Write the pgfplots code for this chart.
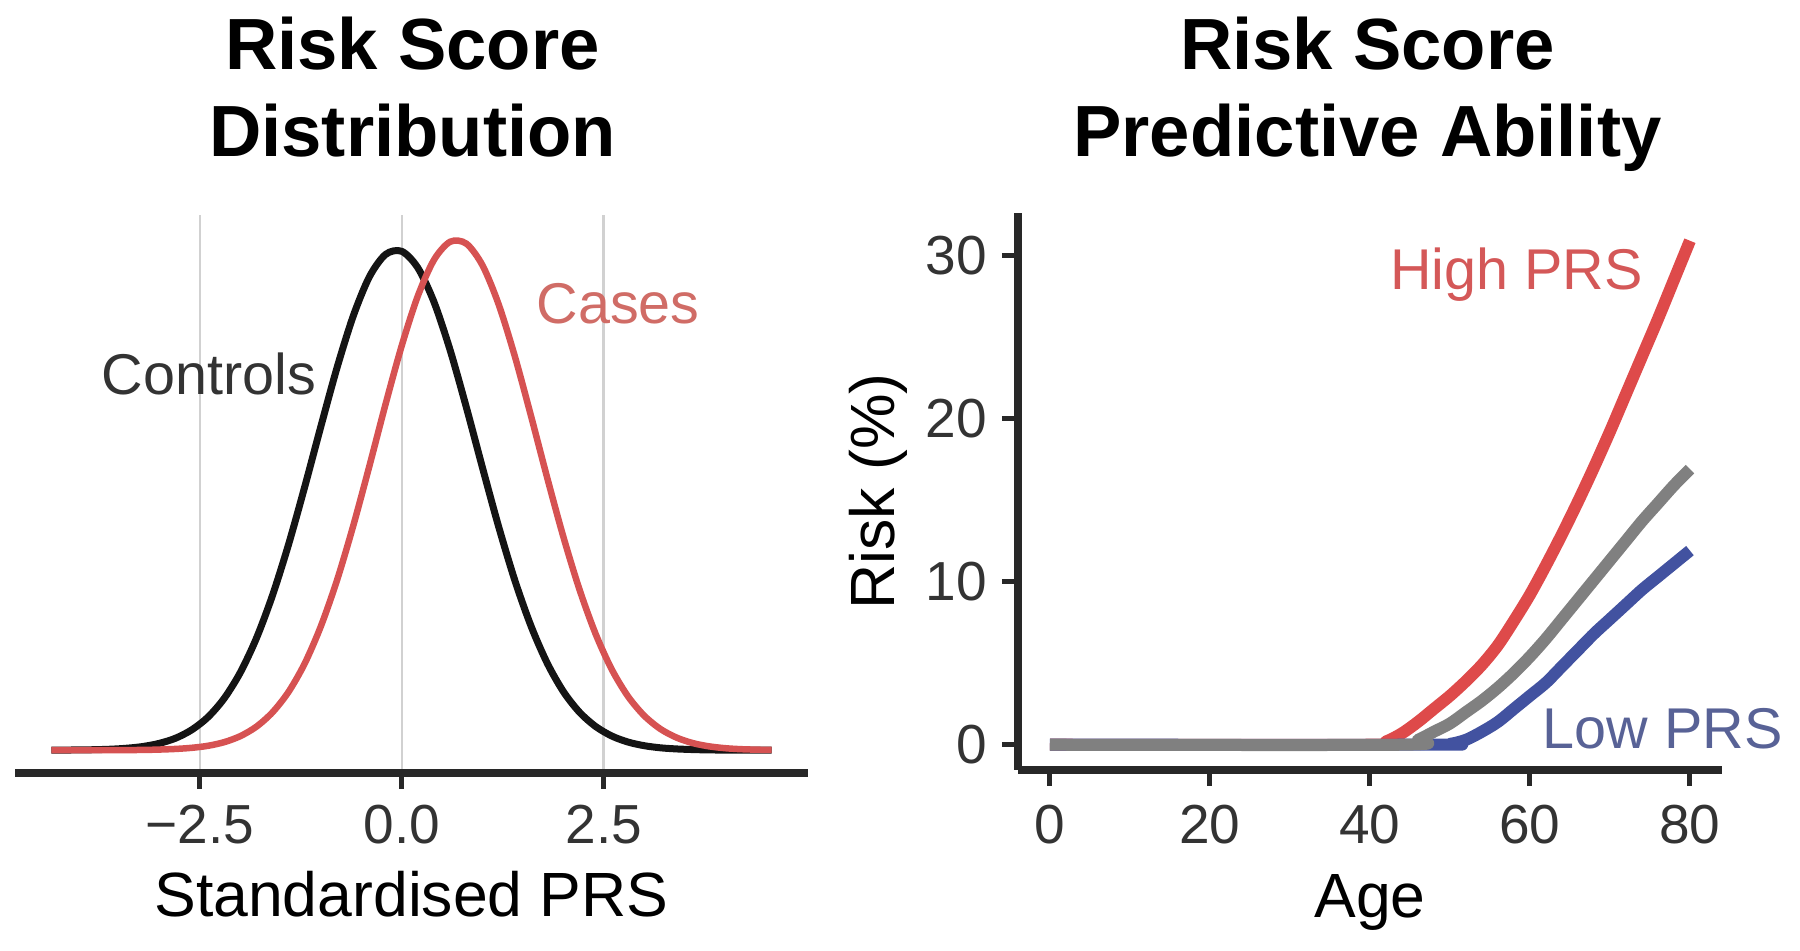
\documentclass[border=0pt]{standalone}
\usepackage{fontspec}
\setmainfont{Liberation Sans}
\usepackage{pgfplots}
\usepackage{pgfplotstable}
\pgfplotsset{compat=1.18}

\definecolor{ctrl}{RGB}{20,20,20}
\definecolor{casec}{RGB}{214,82,82}
\definecolor{caselab}{RGB}{208,108,102}
\definecolor{highc}{RGB}{222,74,74}
\definecolor{highlab}{RGB}{212,88,88}
\definecolor{grayc}{RGB}{128,128,128}
\definecolor{lowc}{RGB}{66,82,160}
\definecolor{lowlab}{RGB}{88,98,150}
\definecolor{axc}{RGB}{40,40,40}

\pgfplotstableread{
x y
-4.34 0.0000
-4.2 0.0001
-4.0 0.0002
-3.8 0.0004
-3.6 0.0008
-3.4 0.0016
-3.2 0.0030
-3.0 0.0055
-2.8 0.0096
-2.6 0.0163
-2.4 0.0264
-2.2 0.0413
-2.0 0.0620
-1.8 0.0894
-1.6 0.1238
-1.4 0.1647
-1.2 0.2107
-1.0 0.2589
-0.8 0.3057
-0.6 0.3467
-0.4 0.3779
-0.2 0.3956
0.0 0.3980
0.2 0.3847
0.4 0.3573
0.6 0.3188
0.8 0.2733
1.0 0.2251
1.2 0.1781
1.4 0.1354
1.6 0.0990
1.8 0.0695
2.0 0.0468
2.2 0.0303
2.4 0.0189
2.6 0.0113
2.8 0.0065
3.0 0.0036
3.2 0.0019
3.4 0.0010
3.6 0.0005
3.8 0.0002
4.0 0.0001
4.2 0.0000
4.4 0.0000
4.58 0.0000
}\controls

\pgfplotstableread{
x y
-4.34 0.0000
-4.2 0.0000
-4.0 0.0000
-3.8 0.0000
-3.6 0.0000
-3.4 0.0001
-3.2 0.0002
-3.0 0.0005
-2.8 0.0010
-2.6 0.0019
-2.4 0.0035
-2.2 0.0064
-2.0 0.0112
-1.8 0.0188
-1.6 0.0303
-1.4 0.0468
-1.2 0.0695
-1.0 0.0993
-0.8 0.1361
-0.6 0.1794
-0.4 0.2271
-0.2 0.2764
0.0 0.3230
0.2 0.3627
0.4 0.3914
0.6 0.4057
0.8 0.4041
1.0 0.3867
1.2 0.3555
1.4 0.3141
1.6 0.2666
1.8 0.2174
2.0 0.1703
2.2 0.1282
2.4 0.0927
2.6 0.0644
2.8 0.0430
3.0 0.0276
3.2 0.0170
3.4 0.0101
3.6 0.0057
3.8 0.0031
4.0 0.0016
4.2 0.0008
4.4 0.0004
4.58 0.0002
}\cases

\pgfplotstableread{
age risk
0 0
40 0
42 0.2
44 0.7
46 1.4
48 2.2
50 3.0
52 3.9
54 4.9
56 6.1
58 7.6
60 9.2
62 11.0
64 12.9
66 14.9
68 17.0
70 19.2
72 21.5
74 23.8
76 26.1
78 28.5
80 30.9
}\high

\pgfplotstableread{
age risk
0 0
44 0
46 0.3
48 0.8
50 1.3
52 2.0
54 2.7
56 3.5
58 4.4
60 5.4
62 6.5
64 7.7
66 8.9
68 10.1
70 11.3
72 12.5
74 13.7
76 14.8
78 15.9
80 16.9
}\avg

\pgfplotstableread{
age risk
0 0
48 0
50 0.05
52 0.3
54 0.8
56 1.4
58 2.2
60 3.0
62 3.8
64 4.8
66 5.8
68 6.8
70 7.7
72 8.6
74 9.5
76 10.3
78 11.1
80 11.9
}\low

\newcommand{\tickfont}{\fontsize{11}{13}\selectfont}
\newcommand{\labfont}{\fontsize{12.5}{15}\selectfont}
\newcommand{\annfont}{\fontsize{11.5}{13}\selectfont}
\newcommand{\titfont}{\fontsize{14.5}{17}\selectfont\bfseries}

\begin{document}
\begin{tikzpicture}
\useasboundingbox (0,0) rectangle (360pt,190.2pt);

\node[anchor=base, font=\titfont] at (82.5pt,176.2pt) {Risk Score};
\node[anchor=base, font=\titfont] at (82.5pt,158.8pt) {Distribution};
\node[anchor=base, font=\titfont] at (273.5pt,176.2pt) {Risk Score};
\node[anchor=base, font=\titfont] at (273.5pt,158.8pt) {Predictive Ability};

\begin{axis}[
  at={(3pt,35.6pt)}, anchor=south west,
  scale only axis, width=158.6pt, height=111.6pt,
  xmin=-4.79, xmax=5.03, ymin=-0.0182, ymax=0.427,
  axis x line*=bottom, axis y line=none,
  axis line style={line width=1.5pt, color=axc},
  xtick={-2.5,0,2.5}, xticklabels={−2.5,0.0,2.5},
  ytick=\empty,
  tick align=outside, major tick length=3.2pt,
  tick style={line width=1pt, color=axc},
  xmajorgrids, grid style={line width=0.5pt, color=black!18},
  xticklabel style={font=\tickfont, text=black!80, anchor=base, yshift=-10.9pt},
  xlabel={Standardised PRS},
  xlabel style={font=\labfont, anchor=base, at={(axis description cs:0.5,-0.258)}},
  clip=false,
]
\addplot[ctrl, line width=1.4pt, smooth] table[x=x, y=y] {\controls};
\addplot[casec, line width=1.3pt, smooth] table[x=x, y=y] {\cases};
\node[text=black!80, font=\annfont] at (axis cs:-2.39,0.300) {Controls};
\node[text=caselab, font=\annfont] at (axis cs:2.68,0.356) {Cases};
\end{axis}

\begin{axis}[
  at={(203.6pt,36.2pt)}, anchor=south west,
  scale only axis, width=140.8pt, height=111.4pt,
  xmin=-4, xmax=84, ymin=-1.55, ymax=32.6,
  axis x line*=bottom, axis y line*=left,
  axis line style={line width=1.5pt, color=axc},
  xtick={0,20,40,60,80}, xticklabels={0,20,40,60,80},
  ytick={0,10,20,30}, yticklabels={0,10,20,30},
  tick align=outside, major tick length=3.2pt,
  tick style={line width=1pt, color=axc},
  xticklabel style={font=\tickfont, text=black!80, anchor=base, yshift=-11.5pt},
  yticklabel style={font=\tickfont, text=black!80, anchor=east, xshift=0.5pt},
  xlabel={Age},
  xlabel style={font=\labfont, anchor=base, at={(axis description cs:0.5,-0.264)}},
  ylabel={Risk (\%)},
  ylabel style={font=\labfont, anchor=base, at={(axis description cs:-0.1761,0.5)}},
  clip=false,
]
\addplot[highc, line width=2.4pt, line join=round, smooth] table[x=age, y=risk] {\high};
\addplot[lowc, line width=2.4pt, line join=round, smooth] table[x=age, y=risk] {\low};
\addplot[grayc, line width=2.4pt, line join=round, smooth] table[x=age, y=risk] {\avg};
\node[text=highlab, font=\annfont] at (axis cs:58.3,28.8) {High PRS};
\node[text=lowlab, font=\annfont] at (axis cs:76.6,1.0) {Low PRS};
\end{axis}
\end{tikzpicture}
\end{document}
